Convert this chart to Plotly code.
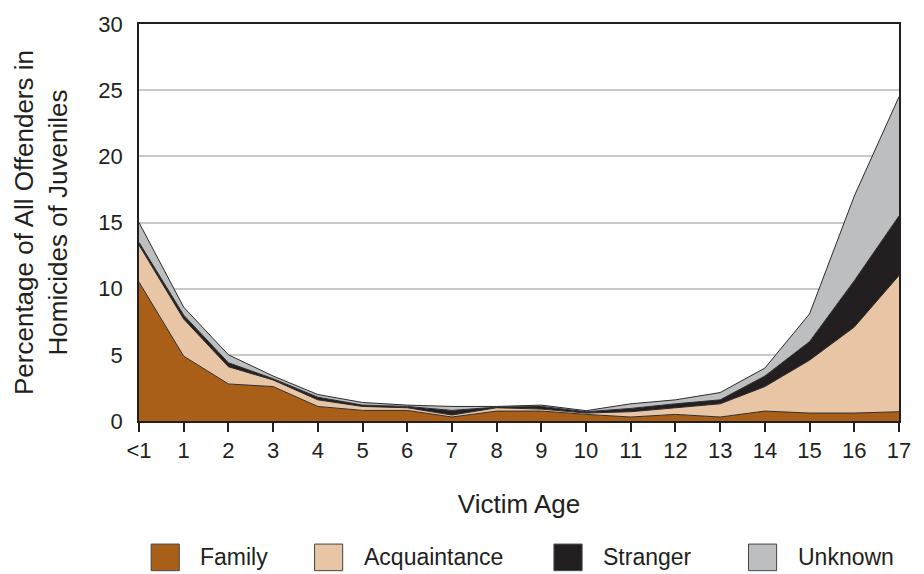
import plotly.graph_objects as go

ages = ["<1", "1", "2", "3", "4", "5", "6", "7", "8", "9", "10",
        "11", "12", "13", "14", "15", "16", "17"]

# percentage of offenders, per relationship (stacked)
family = [10.5, 4.9, 2.8, 2.6, 1.1, 0.8, 0.8, 0.3, 0.75, 0.75, 0.5,
          0.3, 0.5, 0.3, 0.75, 0.6, 0.6, 0.7]
acquaintance = [2.8, 2.8, 1.3, 0.5, 0.5, 0.3, 0.2, 0.15, 0.25, 0.15, 0.1,
                0.4, 0.5, 1.0, 1.85, 4.0, 6.5, 10.3]
stranger = [0.2, 0.3, 0.3, 0.1, 0.2, 0.1, 0.1, 0.35, 0.05, 0.2, 0.1,
            0.25, 0.3, 0.3, 0.8, 1.4, 3.5, 4.5]
unknown = [1.5, 0.6, 0.6, 0.2, 0.2, 0.2, 0.1, 0.3, 0.05, 0.1, 0.08,
           0.35, 0.3, 0.55, 0.6, 2.1, 6.4, 9.0]

series = [
    ("Family", family, "#A95F18"),
    ("Acquaintance", acquaintance, "#E7C5A5"),
    ("Stranger", stranger, "#231F20"),
    ("Unknown", unknown, "#BCBEC0"),
]

FONT = "Liberation Sans, Arial, sans-serif"
xpos = list(range(len(ages)))

fig = go.Figure()
for name, vals, color in series:
    fig.add_trace(go.Scatter(
        x=xpos, y=vals, name=name, mode="lines",
        stackgroup="one", fillcolor=color,
        line=dict(color="#2b2b2b", width=1),
        showlegend=False, hoverinfo="x+y+name",
    ))

# legend drawn as squares + labels under the plot
legend_x = [0.016, 0.231, 0.546, 0.802]
shapes = []
annotations = []
for (name, vals, color), lx in zip(series, legend_x):
    shapes.append(dict(
        type="rect", xref="paper", yref="paper",
        x0=lx, x1=lx + 0.037, y0=-0.31, y1=-0.377,
        fillcolor=color, line=dict(color="#444", width=1),
    ))
    annotations.append(dict(
        xref="paper", yref="paper", x=lx + 0.062, y=-0.343,
        text=name, showarrow=False, xanchor="left", yanchor="middle",
        font=dict(family=FONT, size=23, color="#231F20"),
    ))

fig.update_layout(
    width=924, height=574,
    margin=dict(l=139, r=25, t=21, b=153),
    paper_bgcolor="white", plot_bgcolor="white",
    font=dict(family=FONT, color="#231F20"),
    shapes=shapes, annotations=annotations,
    xaxis=dict(
        range=[0, len(ages) - 1],
        tickvals=xpos, ticktext=ages,
        ticks="outside", ticklen=9, tickcolor="#231F20", tickwidth=1.5,
        showgrid=False, zeroline=False,
        showline=True, linecolor="#231F20", linewidth=1.5, mirror=True,
        tickfont=dict(size=22),
        title=dict(text="Victim Age", font=dict(size=26), standoff=33),
    ),
    yaxis=dict(
        range=[0, 30], dtick=5,
        ticks="outside", ticklen=10, tickcolor="rgba(0,0,0,0)",
        showgrid=True, gridcolor="#C9C9C9", gridwidth=1.5,
        zeroline=False,
        showline=True, linecolor="#231F20", linewidth=1.5, mirror=True,
        tickfont=dict(size=22),
        title=dict(text="Percentage of All Offenders in<br>Homicides of Juveniles",
                   font=dict(size=26), standoff=23),
    ),
)

# drop the default body margin so the figure sits at the page corner
fig.write_html("out.html",
               config={"displayModeBar": False},
               post_script="document.body.style.margin='0';"
                           "document.body.style.overflow='hidden';")
